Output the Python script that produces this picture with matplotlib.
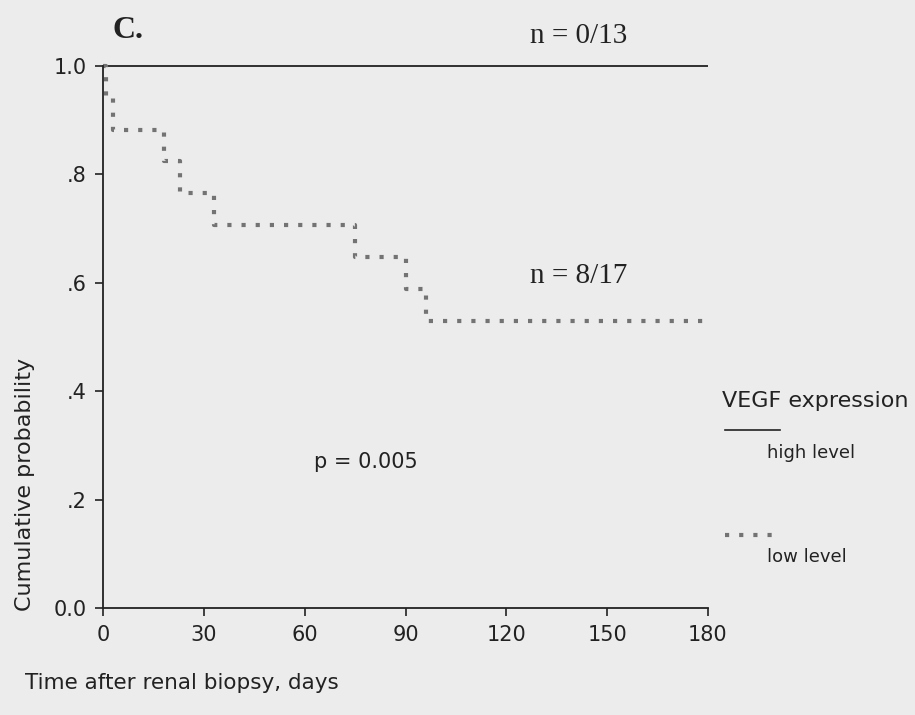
import matplotlib
matplotlib.use("Agg")
import matplotlib.pyplot as plt
from matplotlib.lines import Line2D

# data
high_days = [0, 180]
high_surv = [1.0, 1.0]
low_days = [0, 1, 3, 18, 23, 33, 75, 90, 96, 180]
low_surv = [1.0, 0.941, 0.882, 0.824, 0.765, 0.706, 0.647, 0.588, 0.529, 0.529]
x_ticks = [0, 30, 60, 90, 120, 150, 180]
y_ticks = [0.0, 0.2, 0.4, 0.6, 0.8, 1.0]
y_tick_labels = ["0.0", ".2", ".4", ".6", ".8", "1.0"]

W, H = 915, 715
bg = "#ececec"
ink = "#222222"
dot_col = "#737373"
sans = ["DejaVu Sans"]
serif = ["Liberation Serif", "DejaVu Serif"]

fig = plt.figure(figsize=(W / 100, H / 100), dpi=100, facecolor=bg)


def fx(px):
    return px / W


def fy(py):
    return 1 - py / H


ax = fig.add_axes([fx(103), fy(608), fx(708) - fx(103), fy(66) - fy(608)])
ax.set_facecolor(bg)

ax.plot(high_days, high_surv, color=ink, lw=1.3, solid_capstyle="butt", clip_on=False)
ax.plot(low_days, low_surv, drawstyle="steps-post", color=dot_col, lw=3.0,
        linestyle=(0, (1, 2.4)), dash_capstyle="butt", clip_on=False)

ax.set_xlim(0, 180)
ax.set_ylim(0, 1.0)
ax.set_xticks(x_ticks)
ax.set_xticklabels([str(t) for t in x_ticks], family=sans, fontsize=15)
ax.set_yticks(y_ticks)
ax.set_yticklabels(y_tick_labels, family=sans, fontsize=15)
for s in ["top", "right"]:
    ax.spines[s].set_visible(False)
for s in ["left", "bottom"]:
    ax.spines[s].set_color(ink)
    ax.spines[s].set_linewidth(1.3)
ax.tick_params(axis="both", direction="out", length=6, width=1.2, colors=ink, pad=6)

fig.text(fx(112), fy(31), "C.", family=serif, fontsize=23, fontweight="bold",
         color=ink, va="center", ha="left")
fig.text(fx(579), fy(36), "n = 0/13", family=serif, fontsize=21, color=ink,
         va="center", ha="center")
fig.text(fx(579), fy(276), "n = 8/17", family=serif, fontsize=21, color=ink,
         va="center", ha="center")
fig.text(fx(366), fy(462), "p = 0.005", family=sans, fontsize=15, color=ink,
         va="center", ha="center")
fig.text(fx(25), fy(484), "Cumulative probability", family=sans, fontsize=16,
         color=ink, va="center", ha="center", rotation=90)
fig.text(fx(25), fy(683), "Time after renal biopsy, days", family=sans, fontsize=15.5,
         color=ink, va="center", ha="left")

# legend drawn by hand
fig.text(fx(722), fy(401), "VEGF expression", family=sans, fontsize=16,
         color=ink, va="center", ha="left")
fig.add_artist(Line2D([fx(725), fx(780)], [fy(430), fy(430)], color=ink, lw=1.2))
fig.text(fx(767), fy(453), "high level", family=sans, fontsize=13,
         color=ink, va="center", ha="left")
fig.add_artist(Line2D([fx(725), fx(772)], [fy(535), fy(535)], color=dot_col, lw=3.0,
                      linestyle=(0, (1, 2.4)), dash_capstyle="butt"))
fig.text(fx(767), fy(557), "low level", family=sans, fontsize=13,
         color=ink, va="center", ha="left")

fig.savefig("out.png", dpi=100, facecolor=bg)
